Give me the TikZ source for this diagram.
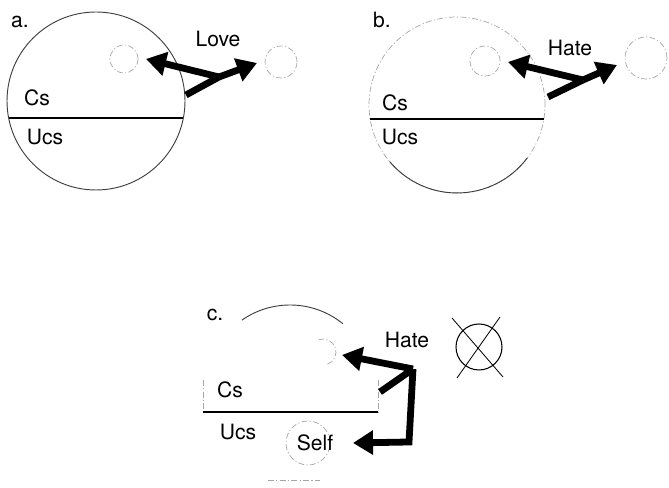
\documentclass[tikz,border=0pt]{standalone}
\usepackage{fontspec}
\setmainfont{TeX Gyre Heros}
\usetikzlibrary{arrows.meta,calc}

\begin{document}
\begin{tikzpicture}[x=0.03cm, y=0.03cm,
    lbl/.style={font=\fontsize{18}{21}\selectfont, inner sep=0pt},
    faint/.style={draw=black!35, line width=0.6pt, dash pattern=on 5pt off 2pt on 1pt off 2pt},
    outline/.style={draw=black!75, line width=0.8pt},
    chord/.style={draw=black, line width=1.4pt},
    fat/.style={line width=5.8pt, line join=miter},
    fathead/.style={fat, -{Triangle[length=0.6cm, width=0.7cm]}}]
  \useasboundingbox (0,0) rectangle (669,488);

  % ---- a. : Cs/Ucs circle, love goes out to the object
  \draw[outline] (96,387) circle[radius=89];
  \draw[chord] (8.6,370) -- (183.4,370);
  \draw[faint] (124,429) circle[radius=14];
  \draw[faint] (281,426) circle[radius=16];
  \coordinate (aTipL) at (146,429);
  \coordinate (aVtx)  at (219,411);
  \coordinate (aTipR) at (257,425);
  \coordinate (aStem) at (186,393);
  \draw[fat] (aStem) -- (aVtx);
  \draw[fathead] (aVtx) -- (aTipL);
  \draw[fathead] (aVtx) -- (aTipR);
  \node[lbl] (aName) at (20,466) {a.};
  \node[lbl] (aCs)   at (37,390) {Cs};
  \node[lbl] (aUcs)  at (45,351) {Ucs};
  \node[lbl] (aLove) at (218,449) {Love};

  % ---- b. : same, with hate
  \coordinate (bC) at (457,383);
  \draw[faint] (bC) circle[radius=88];
  \draw[outline] ($(bC)+(220:88)$) arc[start angle=220, end angle=323, radius=88];
  \draw[chord] (370,369) -- (544,369);
  \draw[faint] (485,427) circle[radius=15];
  \draw[faint] (646,430) circle[radius=21];
  \coordinate (bTipL) at (508,426);
  \coordinate (bVtx)  at (583,408);
  \coordinate (bTipR) at (617,423);
  \coordinate (bStem) at (548,391);
  \draw[fat] (bStem) -- (bVtx);
  \draw[fathead] (bVtx) -- (bTipL);
  \draw[fathead] (bVtx) -- (bTipR);
  \node[lbl] (bName) at (382,468) {b.};
  \node[lbl] (bCs)   at (395,385) {Cs};
  \node[lbl] (bUcs)  at (400,351) {Ucs};
  \node[lbl] (bHate) at (570,440) {Hate};

  % ---- c. : object gone, hate turns back on the self
  \coordinate (cC) at (290,99);
  \draw[outline] ($(cC)+(51:84)$) arc[start angle=51, end angle=125, radius=84];
  \draw[faint] (203,108) -- (203,76);
  \draw[faint] (378,108) -- (378,76);
  \draw[chord, line width=1pt] (203,76) -- (378,76);
  \draw[faint] (268,8) -- (320,8);
  \draw[faint] ($(323,136)+(-70:13)$) arc[start angle=-70, end angle=110, radius=13];
  \draw[faint] (308,45) circle[radius=22];
  % lost object
  \draw[line width=0.9pt] (479,141) circle[radius=23];
  \draw[line width=0.7pt] (452,170) -- (503,111);
  \draw[line width=0.7pt] (500,171) -- (457,110);
  \coordinate (cTipU) at (342,133);
  \coordinate (cVtx)  at (413,119);
  \coordinate (cStem) at (380,96);
  \coordinate (cBot)  at (409,46);
  \coordinate (cTipS) at (353,45);
  \draw[fat] (cStem) -- (cVtx);
  \draw[fathead] (cVtx) -- (cTipU);
  \draw[fathead] (cVtx) -- (cBot) -- (cTipS);
  \node[lbl] (cName) at (215,173) {c.};
  \node[lbl] (cCs)   at (230,98) {Cs};
  \node[lbl] (cUcs)  at (238,56) {Ucs};
  \node[lbl] (cHate) at (407,148) {Hate};
  \node[lbl] (cSelf) at (315,45) {Self};
\end{tikzpicture}
\end{document}
